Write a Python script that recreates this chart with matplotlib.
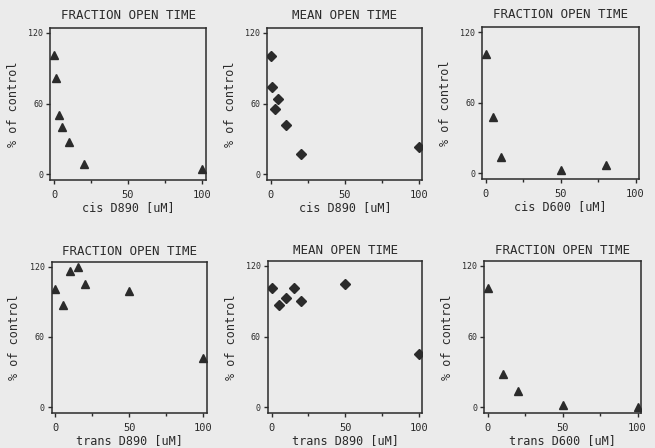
import matplotlib
matplotlib.use("Agg")
import matplotlib.pyplot as plt
from matplotlib.ticker import MultipleLocator

plt.rcParams["font.family"] = "DejaVu Sans Mono"

INK = "#2b2b2b"
PAPER = "#ebebeb"

# cis D890
cis_d890_conc = [0, 1, 3, 5, 10, 20, 100]
cis_d890_frac = [101, 82, 50, 40, 27, 8.5, 4.5]
cis_d890_mean = [100, 74, 55, 64, 42, 17, 23]

# cis D600
cis_d600_conc = [0, 5, 10, 50, 80]
cis_d600_frac = [101, 48, 14, 3, 7]

# trans D890
trans_d890_conc = [0, 5, 10, 15, 20, 50, 100]
trans_d890_frac = [101, 87, 116, 120, 105, 99, 42]
trans_d890_mean = [101, 87, 93, 101, 90, 105, 45]

# trans D600
trans_d600_conc = [0, 10, 20, 50, 100]
trans_d600_frac = [101, 28, 13.5, 1.7, 0.3]

panels = [
    ("FRACTION OPEN TIME", "cis D890 [uM]", cis_d890_conc, cis_d890_frac, "^"),
    ("MEAN OPEN TIME", "cis D890 [uM]", cis_d890_conc, cis_d890_mean, "D"),
    ("FRACTION OPEN TIME", "cis D600 [uM]", cis_d600_conc, cis_d600_frac, "^"),
    ("FRACTION OPEN TIME", "trans D890 [uM]", trans_d890_conc, trans_d890_frac, "^"),
    ("MEAN OPEN TIME", "trans D890 [uM]", trans_d890_conc, trans_d890_mean, "D"),
    ("FRACTION OPEN TIME", "trans D600 [uM]", trans_d600_conc, trans_d600_frac, "^"),
]

# axes rectangles (left, bottom, width, height) in figure fractions
rects = [
    (0.077, 0.598, 0.237, 0.339),
    (0.408, 0.598, 0.237, 0.339),
    (0.736, 0.600, 0.240, 0.339),
    (0.079, 0.078, 0.237, 0.337),
    (0.409, 0.078, 0.236, 0.339),
    (0.739, 0.078, 0.240, 0.339),
]

fig = plt.figure(figsize=(6.55, 4.48), dpi=100, facecolor=PAPER)

for i, (rect, (title, xlabel, x, y, marker)) in enumerate(zip(rects, panels)):
    ax = fig.add_axes(rect)
    ax.set_facecolor(PAPER)
    ms = 6 if marker == "^" else 5
    ax.plot(x, y, linestyle="none", marker=marker, markersize=ms,
            color=INK, markeredgecolor=INK)
    ax.set_xlim(-2.5, 102.5)
    ax.set_ylim(-5, 124)
    ax.set_xticks([0, 50, 100])
    ax.set_yticks([0, 60, 120])
    ax.xaxis.set_minor_locator(MultipleLocator(25))
    for s in ax.spines.values():
        s.set_linewidth(1.1)
        s.set_color(INK)
    ax.tick_params(axis="x", which="major", length=3, width=1, colors=INK,
                   labelsize=7.5, pad=4)
    ax.tick_params(axis="x", which="minor", length=2, width=1, colors=INK)
    ax.tick_params(axis="y", which="major", length=3, width=1, colors=INK,
                   labelsize=6, pad=2)
    ax.set_title(title, fontsize=9, color=INK, pad=7 if i < 3 else 5)
    ax.set_xlabel(xlabel, fontsize=8.5, color=INK, labelpad=1)
    ax.set_ylabel("% of control", fontsize=8.5, color=INK, labelpad=6)

fig.savefig("out.png", dpi=100, facecolor=PAPER)
